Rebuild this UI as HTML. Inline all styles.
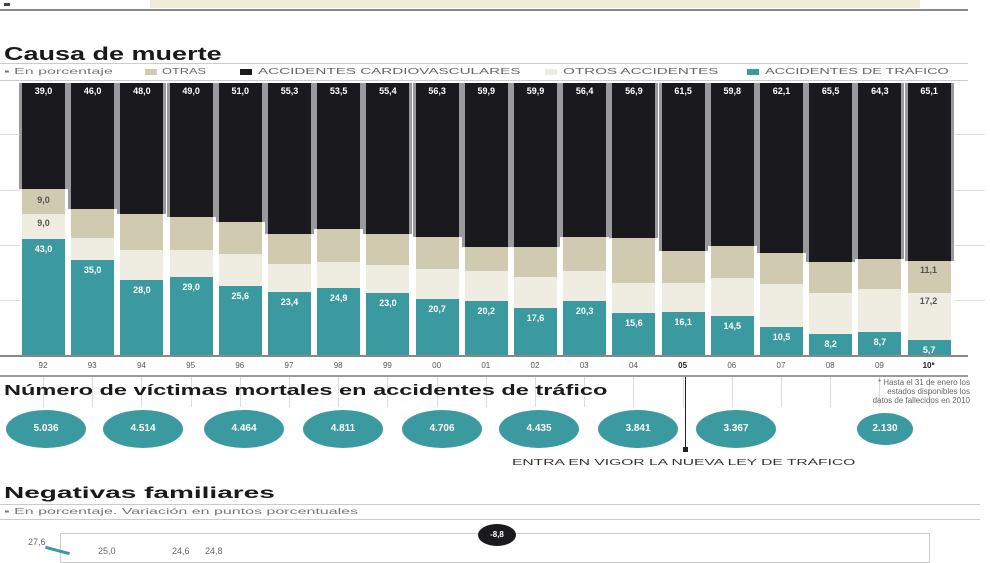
<!DOCTYPE html>
<html><head><meta charset="utf-8">
<style>
body{margin:0;width:990px;height:557px;overflow:hidden;background:#fff;font-family:"Liberation Sans",sans-serif;position:relative}
div{position:absolute;box-sizing:border-box}
.yl{font-size:8px;color:#555;text-align:center;width:40px}
.v{font-size:9px;font-weight:bold;text-align:center;width:43px}
.t{font-weight:bold;color:#1a1a1a;transform-origin:0 0;white-space:nowrap}
.s{transform-origin:0 0;white-space:nowrap}
.el{background:#3a9aa0;border-radius:50%;color:#fff;font-weight:bold;font-size:10px;text-align:center}
</style></head><body>
<div style="left:150px;top:0;width:770px;height:8px;background:#efecd9"></div>
<div style="left:0;top:9px;width:968px;height:2px;background:#888"></div>
<div style="left:4px;top:3px;width:6px;height:3px;background:#444"></div>
<div class="t" style="left:4px;top:44px;font-size:18px;transform:scaleX(1.5)">Causa de muerte</div>
<div style="left:0;top:63px;width:968px;height:1px;background:#ccc"></div>
<div style="left:0;top:80px;width:968px;height:1px;background:#ccc"></div>
<div class="s" style="left:4px;top:67px;font-size:8px;color:#777;transform:scaleX(2)">▪ En porcentaje</div>
<div style="left:145px;top:69px;width:12px;height:6px;background:#cfcab0"></div>
<div class="s" style="left:162px;top:67px;font-size:8px;color:#666;transform:scaleX(1.6)">OTRAS</div>
<div style="left:240px;top:69px;width:12px;height:6px;background:#1a191d"></div>
<div class="s" style="left:258px;top:67px;font-size:8px;color:#666;transform:scaleX(1.9)">ACCIDENTES CARDIOVASCULARES</div>
<div style="left:545px;top:69px;width:12px;height:6px;background:#efede2"></div>
<div class="s" style="left:563px;top:67px;font-size:8px;color:#666;transform:scaleX(1.9)">OTROS ACCIDENTES</div>
<div style="left:747px;top:69px;width:12px;height:6px;background:#3a9aa0"></div>
<div class="s" style="left:765px;top:67px;font-size:8px;color:#666;transform:scaleX(1.8)">ACCIDENTES DE TRÁFICO</div>
<div id="c"></div>
<div style="left:0;top:355px;width:968px;height:2px;background:#888"></div>
<div style="left:0;top:375px;width:968px;height:2px;background:#999"></div>
<div class="t" style="left:4px;top:382px;font-size:15px;transform:scaleX(1.57)">Número de víctimas mortales en accidentes de tráfico</div>
<div style="left:790px;top:378px;width:180px;font-size:8px;color:#666;text-align:right;line-height:9px">* Hasta el 31 de enero los<br>estados disponibles los<br>datos de fallecidos en 2010</div>
<div style="left:685px;top:377px;width:1px;height:72px;background:#222"></div>
<div style="left:683px;top:447px;width:5px;height:5px;background:#222"></div>
<div class="s" style="left:512px;top:458px;font-size:8px;color:#333;transform:scaleX(1.95)">ENTRA EN VIGOR LA NUEVA LEY DE TRÁFICO</div>
<div id="e"></div>
<div class="t" style="left:4px;top:485px;font-size:16px;transform:scaleX(1.75)">Negativas familiares</div>
<div style="left:0;top:504px;width:980px;height:1px;background:#ccc"></div>
<div class="s" style="left:4px;top:507px;font-size:8px;color:#777;transform:scaleX(2)">▪ En porcentaje. Variación en puntos porcentuales</div>
<div style="left:0;top:519px;width:980px;height:1px;background:#ccc"></div>
<div style="left:60px;top:533px;width:870px;height:30px;border:1px solid #ccc"></div>
<div style="left:478px;top:524px;width:38px;height:22px;border-radius:50%;background:#1a191d;color:#fff;font-size:8px;font-weight:bold;text-align:center;line-height:22px">-8,8</div>
<div style="left:28px;top:537px;font-size:9px;color:#666">27,6</div>
<div style="left:98px;top:546px;font-size:9px;color:#666">25,0</div>
<div style="left:172px;top:546px;font-size:9px;color:#666">24,6</div>
<div style="left:205px;top:546px;font-size:9px;color:#666">24,8</div>
<div style="left:45px;top:549px;width:25px;height:3px;background:#3a9aa0;transform:rotate(15deg)"></div>
<script>
var yrs=["92","93","94","95","96","97","98","99","00","01","02","03","04","05","06","07","08","09","10*"];
var blk=[39.0,46.0,48.0,49.0,51.0,55.3,53.5,55.4,56.3,59.9,59.9,56.4,56.9,61.5,59.8,62.1,65.5,64.3,65.1];
var tea=[43.0,35.0,28.0,29.0,25.6,23.4,24.9,23.0,20.7,20.2,17.6,20.3,15.6,16.1,14.5,10.5,8.2,8.7,5.7];
var cre=[9.0,8.4,11,10,11.7,10.3,9.6,10.3,11,11,11.4,11,11,10.5,14,15.7,15,16,17.2];
var h="",k=2.73,top0=83;
for(var i=0;i<19;i++){
 var x=22+i*49.2,y=top0;
 var bh=blk[i]*k,th=tea[i]*k,ch=cre[i]*k,beh=273-bh-th-ch;
 h+='<div style="left:'+(x-3)+'px;top:83px;width:49px;height:'+bh+'px;background:#9a9a9e"></div>';
 h+='<div style="left:'+x+'px;top:'+y+'px;width:43px;height:'+bh+'px;background:#1a191d"></div>';
 h+='<div class="v" style="left:'+x+'px;top:'+(y+3)+'px;color:#fff">'+blk[i].toFixed(1).replace(".",",")+'</div>';
 y+=bh;
 h+='<div style="left:'+x+'px;top:'+y+'px;width:43px;height:'+beh+'px;background:#cfcab0"></div>';
 y+=beh;
 h+='<div style="left:'+x+'px;top:'+y+'px;width:43px;height:'+ch+'px;background:#efede2"></div>';
 y+=ch;
 h+='<div style="left:'+x+'px;top:'+y+'px;width:43px;height:'+(356-y)+'px;background:#3a9aa0"></div>';
 h+='<div class="v" style="left:'+x+'px;top:'+(y+5)+'px;color:#fff">'+tea[i].toFixed(1).replace(".",",")+'</div>';
 h+='<div class="yl" style="left:'+(x+1)+'px;top:361px;'+(i==13||i==18?'font-weight:bold;color:#222':'')+'">'+yrs[i]+'</div>';
 h+='<div style="left:'+(x+21)+'px;top:377px;width:1px;height:30px;background:#ddd"></div>';
}
h+='<div class="v" style="left:22px;top:195px;color:#555">9,0</div><div class="v" style="left:22px;top:218px;color:#555">9,0</div>';
h+='<div class="v" style="left:907px;top:265px;color:#555">11,1</div><div class="v" style="left:907px;top:296px;color:#555">17,2</div>';
[134,190,245,300].forEach(function(g){h+='<div style="left:0;top:'+g+'px;width:20px;height:1px;background:#ddd"></div><div style="left:955px;top:'+g+'px;width:30px;height:1px;background:#ddd"></div>';});
document.getElementById("c").outerHTML=h;
var cx=[46,143,244,343,442,539,638,736],lab=["5.036","4.514","4.464","4.811","4.706","4.435","3.841","3.367"],e="";
for(var j=0;j<8;j++)e+='<div class="el" style="left:'+(cx[j]-40)+'px;top:410px;width:80px;height:38px;line-height:38px">'+lab[j]+'</div>';
e+='<div class="el" style="left:857px;top:413px;width:56px;height:32px;line-height:32px">2.130</div>';
document.getElementById("e").outerHTML=e;
</script>
</body></html>
